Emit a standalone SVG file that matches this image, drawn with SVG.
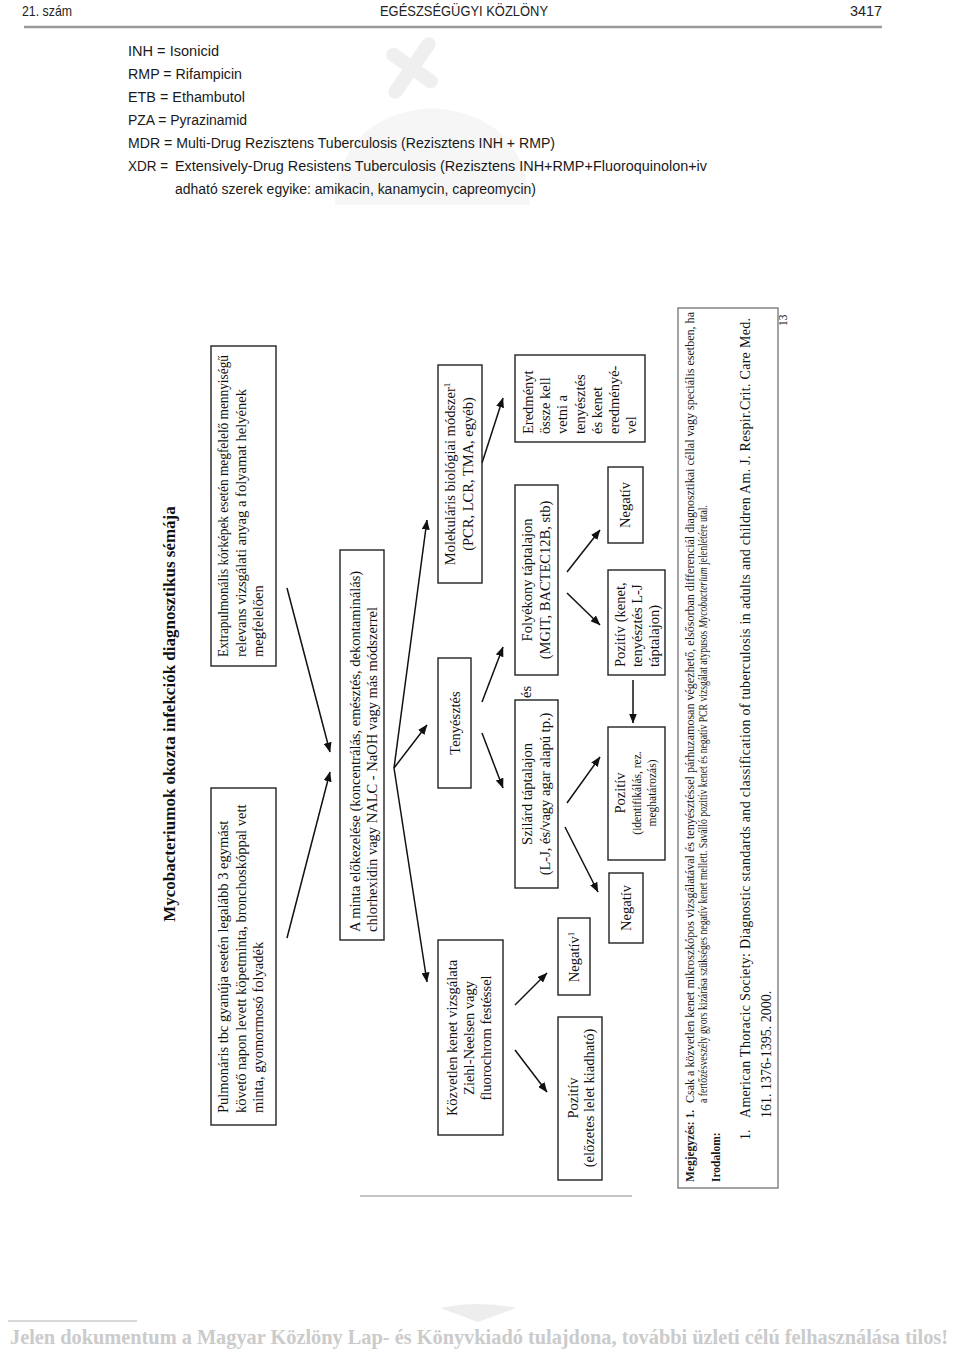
<svg xmlns="http://www.w3.org/2000/svg" width="960" height="1354" viewBox="0 0 960 1354">
<style>
.hd{font-family:"Liberation Sans",Arial,sans-serif;font-size:15px;fill:#222}
.lg{font-family:"Liberation Sans",Arial,sans-serif;font-size:15.5px;fill:#1a1a1a}
.t{font-family:"Liberation Serif","Times New Roman",serif;font-size:14.5px;fill:#111}
.ts{font-family:"Liberation Serif","Times New Roman",serif;font-size:11.5px;fill:#111}
.ttl{font-family:"Liberation Serif","Times New Roman",serif;font-size:17px;font-weight:bold;fill:#111}
.fn{font-family:"Liberation Serif","Times New Roman",serif;font-size:11.5px;fill:#1a1a1a}
.fnb{font-family:"Liberation Serif","Times New Roman",serif;font-size:11.5px;font-weight:bold;fill:#1a1a1a}
.ref{font-family:"Liberation Serif","Times New Roman",serif;font-size:14px;fill:#111}
.box{fill:none;stroke:#222;stroke-width:1.4}
.cn{fill:none;stroke:#111;stroke-width:1.5;marker-end:url(#ah)}
.ft{font-family:"Liberation Serif","Times New Roman",serif;font-size:20px;font-weight:bold;fill:#cbcbcb}
</style>
<defs>
<marker id="ah" viewBox="0 0 10 8" refX="9.5" refY="4" markerWidth="10" markerHeight="8" markerUnits="userSpaceOnUse" orient="auto">
<path d="M0,0 L10,4 L0,8 z" fill="#111"/>
</marker>
</defs>
<rect width="960" height="1354" fill="#fff"/>

<!-- faint watermark -->
<g id="watermark" fill="#ececec" opacity="0.8">
<g transform="translate(412,68) rotate(35)">
<rect x="-7" y="-36" width="14" height="72" rx="7"/>
<rect x="-30" y="-7" width="60" height="14" rx="7"/>
</g>
<path d="M335,205 Q340,115 432,108 Q525,115 530,205 Z" fill="#f4f4f4"/>
<path d="M440,1308 Q478,1300 516,1308 L478,1322 Z" fill="#e8e8e8"/>
</g>

<!-- header -->
<g id="header">
<text class="hd" x="22" y="16" textLength="50" lengthAdjust="spacingAndGlyphs">21. szám</text>
<text class="hd" x="380" y="16" textLength="168" lengthAdjust="spacingAndGlyphs">EGÉSZSÉGÜGYI KÖZLÖNY</text>
<text class="hd" x="850" y="16" textLength="32" lengthAdjust="spacingAndGlyphs">3417</text>
<line x1="24" y1="27" x2="882" y2="27" stroke="#9a9a9a" stroke-width="2.5"/>
</g>

<!-- legend -->
<g id="legend">
<text class="lg" x="128" y="56" textLength="91" lengthAdjust="spacingAndGlyphs">INH = Isonicid</text>
<text class="lg" x="128" y="79" textLength="114" lengthAdjust="spacingAndGlyphs">RMP = Rifampicin</text>
<text class="lg" x="128" y="102" textLength="117" lengthAdjust="spacingAndGlyphs">ETB = Ethambutol</text>
<text class="lg" x="128" y="125" textLength="119" lengthAdjust="spacingAndGlyphs">PZA = Pyrazinamid</text>
<text class="lg" x="128" y="148" textLength="427" lengthAdjust="spacingAndGlyphs">MDR = Multi-Drug Rezisztens Tuberculosis (Rezisztens INH + RMP)</text>
<text class="lg" x="128" y="171" textLength="40" lengthAdjust="spacingAndGlyphs">XDR =</text>
<text class="lg" x="175" y="171" textLength="532" lengthAdjust="spacingAndGlyphs">Extensively-Drug Resistens Tuberculosis (Rezisztens INH+RMP+Fluoroquinolon+iv</text>
<text class="lg" x="175" y="194" textLength="361" lengthAdjust="spacingAndGlyphs">adható szerek egyike: amikacin, kanamycin, capreomycin)</text>
</g>

<!-- title -->
<g id="title">
<text class="ttl" transform="translate(175,714) rotate(-90)" text-anchor="middle">Mycobacteriumok okozta infekciók diagnosztikus sémája</text>
</g>

<!-- connectors -->
<g id="connectors">
<line class="cn" x1="287" y1="938" x2="330" y2="772"/>
<line class="cn" x1="287" y1="588" x2="330" y2="752"/>
<line class="cn" x1="394" y1="768" x2="427" y2="982"/>
<line class="cn" x1="394" y1="768" x2="427" y2="725"/>
<line class="cn" x1="394" y1="768" x2="427" y2="520"/>
<line class="cn" x1="515" y1="1005" x2="547" y2="973"/>
<line class="cn" x1="515" y1="1050" x2="547" y2="1092"/>
<line class="cn" x1="482" y1="702" x2="503" y2="647"/>
<line class="cn" x1="482" y1="733" x2="503" y2="788"/>
<line class="cn" x1="482" y1="463" x2="503" y2="398"/>
<line class="cn" x1="565" y1="827" x2="598" y2="892"/>
<line class="cn" x1="567" y1="803" x2="600" y2="757"/>
<line class="cn" x1="567" y1="593" x2="600" y2="625"/>
<line class="cn" x1="567" y1="572" x2="600" y2="530"/>
<line class="cn" x1="633" y1="680" x2="633" y2="723"/>
</g>

<!-- nodes -->
<g id="n-pulmonaris">
<rect class="box" x="211" y="788" width="65" height="337"/>
<text class="t" transform="translate(228,1113) rotate(-90)">Pulmonáris tbc gyanúja esetén legalább 3 egymást</text>
<text class="t" transform="translate(245.5,1113) rotate(-90)">követő napon levett köpetminta, bronchoskóppal vett</text>
<text class="t" transform="translate(263,1113) rotate(-90)">minta, gyomormosó folyadék</text>
</g>

<g id="n-extrapulmonalis">
<rect class="box" x="211" y="346" width="65" height="320"/>
<text class="t" transform="translate(228,657) rotate(-90)" textLength="302" lengthAdjust="spacingAndGlyphs">Extrapulmonális kórképek esetén megfelelő mennyiségű</text>
<text class="t" transform="translate(245.5,657) rotate(-90)" textLength="268" lengthAdjust="spacingAndGlyphs">relevans vizsgálati anyag a folyamat helyének</text>
<text class="t" transform="translate(263,657) rotate(-90)">megfelelően</text>
</g>

<g id="n-minta">
<rect class="box" x="340" y="550" width="44" height="390"/>
<text class="t" transform="translate(360,932) rotate(-90)">A minta előkezelése (koncentrálás, emésztés, dekontaminálás)</text>
<text class="t" transform="translate(377,932) rotate(-90)">chlorhexidin vagy NALC - NaOH vagy más módszerrel</text>
</g>

<g id="n-kozvetlen">
<rect class="box" x="438" y="940" width="65" height="195"/>
<text class="t" text-anchor="middle" transform="translate(457,1038) rotate(-90)">Közvetlen kenet vizsgálata</text>
<text class="t" text-anchor="middle" transform="translate(474,1038) rotate(-90)">Ziehl-Neelsen vagy</text>
<text class="t" text-anchor="middle" transform="translate(491,1038) rotate(-90)">fluorochrom festéssel</text>
</g>

<g id="n-tenyesztes">
<rect class="box" x="438" y="658" width="33" height="130"/>
<text class="t" text-anchor="middle" transform="translate(460,723) rotate(-90)">Tenyésztés</text>
</g>

<g id="n-molekularis">
<rect class="box" x="438" y="365" width="44" height="218"/>
<text class="t" text-anchor="middle" transform="translate(455,474) rotate(-90)">Molekuláris biológiai módszer<tspan dy="-5" font-size="9">1</tspan></text>
<text class="t" text-anchor="middle" transform="translate(473,474) rotate(-90)">(PCR, LCR, TMA, egyéb)</text>
</g>

<g id="n-negativ1">
<rect class="box" x="558" y="918" width="32" height="77"/>
<text class="t" text-anchor="middle" transform="translate(579,957) rotate(-90)">Negatív<tspan dy="-5" font-size="9">1</tspan></text>
</g>

<g id="n-pozitiv-elozetes">
<rect class="box" x="558" y="1017" width="44" height="163"/>
<text class="t" text-anchor="middle" transform="translate(578,1098) rotate(-90)">Pozitív</text>
<text class="t" text-anchor="middle" transform="translate(594,1098) rotate(-90)">(előzetes lelet kiadható)</text>
</g>

<g id="n-szilard">
<rect class="box" x="515" y="700" width="43" height="188"/>
<text class="t" text-anchor="middle" transform="translate(532,794) rotate(-90)">Szilárd táptalajon</text>
<text class="t" text-anchor="middle" transform="translate(550,794) rotate(-90)">(L-J, és/vagy agar alapú tp.)</text>
</g>

<g id="n-es">
<text class="t" text-anchor="middle" transform="translate(531,692) rotate(-90)">és</text>
</g>

<g id="n-folyekony">
<rect class="box" x="515" y="485" width="43" height="190"/>
<text class="t" text-anchor="middle" transform="translate(532,580) rotate(-90)">Folyékony táptalajon</text>
<text class="t" text-anchor="middle" transform="translate(550,580) rotate(-90)">(MGIT, BACTEC12B, stb)</text>
</g>

<g id="n-eredmenyt">
<rect class="box" x="515" y="355" width="130" height="87"/>
<text class="t" transform="translate(533,434) rotate(-90)">Eredményt</text>
<text class="t" transform="translate(550,434) rotate(-90)">össze kell</text>
<text class="t" transform="translate(567,434) rotate(-90)">vetni a</text>
<text class="t" transform="translate(584.5,434) rotate(-90)">tenyésztés</text>
<text class="t" transform="translate(602,434) rotate(-90)">és kenet</text>
<text class="t" transform="translate(619,434) rotate(-90)">eredményé-</text>
<text class="t" transform="translate(636,434) rotate(-90)">vel</text>
</g>

<g id="n-negativ-szilard">
<rect class="box" x="609" y="873" width="34" height="70"/>
<text class="t" text-anchor="middle" transform="translate(631,908) rotate(-90)">Negatív</text>
</g>

<g id="n-pozitiv-identif">
<rect class="box" x="608" y="727" width="57" height="133"/>
<text class="t" text-anchor="middle" transform="translate(625,793) rotate(-90)">Pozitív</text>
<text class="ts" text-anchor="middle" transform="translate(641,793) rotate(-90)">(identifikálás, rez.</text>
<text class="ts" text-anchor="middle" transform="translate(656,793) rotate(-90)">meghatározás)</text>
</g>

<g id="n-pozitiv-kenet">
<rect class="box" x="608" y="570" width="57" height="105"/>
<text class="t" transform="translate(625,667) rotate(-90)">Pozitív (kenet,</text>
<text class="t" transform="translate(642,667) rotate(-90)">tenyésztés L-J</text>
<text class="t" transform="translate(659,667) rotate(-90)">táptalajon)</text>
</g>

<g id="n-negativ-folyekony">
<rect class="box" x="608" y="467" width="35" height="76"/>
<text class="t" text-anchor="middle" transform="translate(630,505) rotate(-90)">Negatív</text>
</g>

<!-- separator -->
<line x1="360" y1="1196" x2="632" y2="1196" stroke="#8a8a8a" stroke-width="1"/>

<!-- footnotes -->
<g id="notes">
<rect x="678" y="308" width="100" height="880" fill="none" stroke="#666" stroke-width="1.2"/>
<text class="fnb" transform="translate(694,1182) rotate(-90)" textLength="72" lengthAdjust="spacingAndGlyphs">Megjegyzés: 1.</text>
<text class="fn" transform="translate(694,1103) rotate(-90)" textLength="791" lengthAdjust="spacingAndGlyphs">Csak a  közvetlen kenet mikroszkópos vizsgálatával és tenyésztéssel párhuzamosan végezhető, elsősorban differenciál diagnosztikai céllal vagy speciális esetben, ha</text>
<text class="fn" transform="translate(707,1103) rotate(-90)" textLength="598" lengthAdjust="spacingAndGlyphs">a fertőzésveszély  gyors kizárása szükséges negatív kenet mellett. Saválló pozitív kenet és negatív PCR vizsgálat atypusos <tspan font-style="italic">Mycobacterium</tspan> jelenlétére utal.</text>
<text class="fnb" transform="translate(720,1182) rotate(-90)">Irodalom:</text>
<text class="ref" transform="translate(750,1140) rotate(-90)">1.</text>
<text class="ref" transform="translate(750,1118) rotate(-90)" textLength="800" lengthAdjust="spacing">American Thoracic Society: Diagnostic standards and classification of tuberculosis in adults and children Am. J. Respir.Crit. Care Med.</text>
<text class="ref" transform="translate(771,1118) rotate(-90)">161. 1376-1395. 2000.</text>
<text class="fn" transform="translate(787,326) rotate(-90)">13</text>
</g>

<!-- footer -->
<g id="footer">
<line x1="8" y1="1321" x2="137" y2="1321" stroke="#b0b0b0" stroke-width="1"/>
<text class="ft" x="10" y="1344" textLength="938" lengthAdjust="spacingAndGlyphs">Jelen dokumentum a Magyar Közlöny Lap- és Könyvkiadó tulajdona, további üzleti célú felhasználása tilos!</text>
</g>
</svg>
